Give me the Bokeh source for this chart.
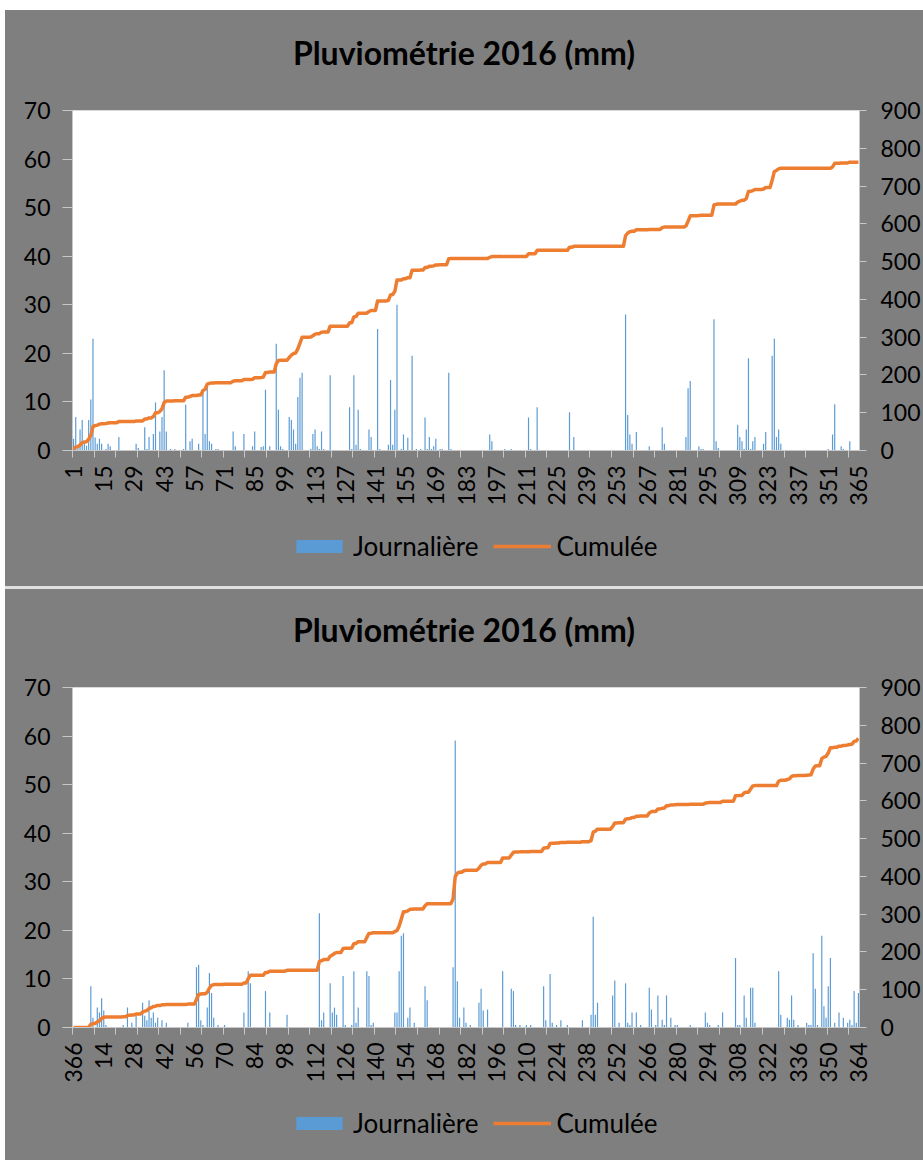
import math
import numpy as np
from bokeh.plotting import figure
from bokeh.models import Range1d, LinearAxis, FixedTicker, Legend, LegendItem, Div
from bokeh.layouts import column
from bokeh.embed import file_html
from bokeh.resources import INLINE

TITLE = "Pluviométrie 2016 (mm)"
SERIES_DAILY = "Journalière"
SERIES_CUM = "Cumulée"

# Category labels (one per bar), chart 1 and chart 2
top_days = list(range(1, 366))
bottom_days = [366] + list(range(1, 365))
label_step = 14
left_ticks = [0, 10, 20, 30, 40, 50, 60, 70]
right_ticks = [0, 100, 200, 300, 400, 500, 600, 700, 800, 900]

# Daily rain (mm), keyed by the category label; days not listed are 0
top_rain = {
    1: 2.4, 2: 6.9, 3: 1.0, 4: 4.3, 5: 6.3, 6: 1.5, 7: 1.0, 8: 6.3, 9: 10.5, 10: 23.0,
    11: 2.7, 12: 1.4, 13: 2.4, 14: 1.4, 16: 0.3, 17: 1.4, 18: 0.9, 22: 2.8,
    30: 1.4, 31: 0.5, 34: 4.8, 35: 0.3, 36: 2.8, 38: 3.4, 39: 9.9, 41: 3.9, 42: 6.9,
    43: 16.5, 44: 3.9, 46: 0.3, 48: 0.3,
    52: 0.3, 53: 9.4, 55: 1.9, 56: 2.4, 59: 1.4,
    61: 12.0, 62: 3.4, 63: 13.5, 64: 1.9, 65: 1.4, 67: 0.3, 68: 0.3,
    75: 3.9, 76: 0.9, 80: 3.4, 84: 0.9, 85: 3.9, 88: 0.7, 89: 0.9,
    90: 12.5, 92: 0.9, 95: 22.0, 96: 8.4, 97: 0.9, 98: 0.3,
    101: 6.9, 102: 6.3, 103: 4.3, 104: 1.4, 105: 11.0, 106: 15.0, 107: 16.0,
    111: 0.3, 112: 3.4, 113: 4.3, 114: 0.9, 115: 0.3, 116: 3.9, 117: 0.3, 120: 15.5,
    129: 8.9, 130: 0.3, 131: 15.5, 132: 1.2, 133: 8.4, 134: 0.3,
    138: 4.3, 139: 2.8, 142: 25.0, 143: 0.3,
    147: 1.2, 148: 14.5, 149: 1.2, 150: 8.4, 151: 30.0, 153: 0.3, 154: 3.3, 156: 2.6,
    158: 19.5, 160: 0.3, 162: 0.3,
    164: 6.8, 165: 0.3, 166: 2.8, 167: 0.3, 168: 0.9, 169: 2.4, 171: 0.3, 172: 0.3,
    175: 16.0, 176: 0.3,
    194: 3.3, 195: 1.9, 201: 0.3, 204: 0.3, 212: 6.8, 213: 0.3, 216: 8.9, 231: 7.9, 233: 2.8,
    257: 28.0, 258: 7.3, 259: 3.3, 260: 1.4, 262: 3.8, 268: 0.9, 274: 4.8, 275: 1.4,
    285: 2.8, 286: 12.8, 287: 14.3, 291: 0.9, 292: 0.3, 293: 0.3, 298: 27.0, 299: 1.9, 300: 0.5,
    309: 5.3, 310: 2.8, 311: 1.9, 312: 0.3, 313: 4.3, 314: 19.0, 315: 0.3, 316: 1.9, 317: 2.8,
    321: 1.4, 322: 3.8, 325: 19.5, 326: 23.0, 327: 2.8, 328: 4.3, 329: 1.4,
    351: 0.3, 353: 3.3, 354: 9.5, 357: 0.9, 358: 0.3, 361: 1.9,
}

bottom_rain = {
    8: 8.5, 9: 2.0, 11: 4.1, 12: 3.1, 13: 6.0, 14: 3.5, 15: 0.5,
    23: 0.5, 25: 4.1, 27: 1.0, 29: 2.4, 32: 5.1, 33: 2.4, 34: 1.5, 35: 5.6, 36: 2.0,
    37: 3.1, 38: 1.0, 39: 2.0, 41: 1.5, 43: 1.0,
    53: 1.0, 57: 12.4, 58: 12.9, 59: 1.5, 60: 0.5, 62: 4.1, 63: 11.2, 64: 7.1, 65: 2.0,
    67: 0.5, 70: 0.5,
    79: 3.1, 81: 11.6, 82: 9.1, 89: 7.5, 91: 3.1, 99: 2.6,
    114: 23.5, 115: 1.5, 116: 3.1, 119: 9.1, 120: 3.1, 121: 4.1, 122: 2.6,
    125: 10.6, 126: 0.5, 129: 0.5, 130: 11.6, 131: 1.0, 132: 4.1, 136: 11.6, 137: 10.6,
    138: 0.5, 139: 1.0,
    149: 3.1, 150: 3.1, 151: 11.6, 152: 18.9, 153: 19.4, 155: 2.0, 156: 4.1, 158: 1.0,
    163: 8.5, 164: 5.6,
    176: 12.4, 177: 59.1, 178: 9.5, 179: 2.0, 181: 4.1, 182: 1.0, 184: 0.5,
    188: 5.1, 189: 8.0, 190: 3.5, 192: 3.7, 199: 11.6, 203: 8.0, 204: 7.5, 205: 0.5,
    207: 0.5, 210: 0.5, 212: 0.5,
    218: 8.5, 219: 1.5, 221: 11.0, 222: 1.0, 224: 0.5, 226: 1.5, 229: 0.5, 236: 1.5,
    240: 2.6, 241: 22.8, 242: 2.6, 243: 5.1,
    250: 6.6, 251: 9.7, 253: 1.0, 256: 9.1, 257: 1.0, 258: 0.5, 259: 3.1, 261: 3.1, 263: 0.5,
    267: 8.2, 268: 3.7, 270: 0.5, 271: 6.6, 273: 1.6, 274: 0.5, 275: 6.6, 277: 2.0,
    279: 0.5, 280: 0.5, 286: 0.5,
    293: 3.1, 294: 1.0, 295: 0.5, 299: 0.5, 301: 3.1,
    307: 14.3, 308: 0.5, 309: 0.5, 311: 6.6, 312: 2.0, 314: 8.2, 315: 8.2, 316: 1.0,
    327: 11.6, 328: 2.6, 331: 2.0, 332: 1.6, 333: 6.6, 334: 1.6, 336: 0.5,
    340: 1.0, 341: 0.5, 342: 0.5, 343: 15.3, 344: 8.0, 345: 0.5, 347: 18.9, 348: 4.4,
    349: 2.0, 350: 8.5, 351: 14.3, 353: 1.0,
    355: 3.1, 357: 2.0, 359: 1.0, 360: 1.6, 361: 0.5, 362: 7.5, 363: 1.0, 364: 7.1,
}

BAR_COLOR = "#5b9bd5"
LINE_COLOR = "#ed7d31"
PANEL = "#7f7f7f"
AXIS_GRAY = "#c8c8c8"
FONT = "Lato"
W = 918


def series(labels, rain):
    daily = [0.0 if (i == 0 and lab == 366) else rain.get(lab, 0.0)
             for i, lab in enumerate(labels)]
    return list(range(len(labels))), daily, list(np.cumsum(daily))


def make_title(height, pad_top):
    html = ('<div style="width:%dpx; text-align:center; font-family:Lato; font-weight:bold; '
            'font-size:32px; line-height:38px; color:black; white-space:nowrap; '
            'padding-top:%dpx;">%s</div>' % (W, pad_top, TITLE))
    return Div(text=html, width=W, height=height, margin=(0, 0, 0, 0),
               styles={"background-color": PANEL})


def make_chart(labels, rain, height, border_top, border_bottom):
    xs, daily, cum = series(labels, rain)
    n = len(labels)
    p = figure(width=W, height=height, x_range=Range1d(-0.5, n - 0.5),
               y_range=Range1d(0, 70), output_backend="svg", toolbar_location=None,
               min_border_left=67, min_border_right=61,
               min_border_top=border_top, min_border_bottom=border_bottom)
    p.title.visible = False
    p.extra_y_ranges = {"cum": Range1d(0, 900)}
    p.border_fill_color = PANEL
    p.background_fill_color = "white"
    p.outline_line_color = "#d9d9d9"
    p.xgrid.visible = False
    p.ygrid.visible = False

    p.vbar(x=xs, top=daily, width=0.55, color=BAR_COLOR, line_color=None)
    p.line(x=xs, y=cum, y_range_name="cum", color=LINE_COLOR, line_width=3.5,
           line_join="round")

    # x axis: labels every 14 categories, tick marks every 10 categories
    lab_pos = list(range(0, n, label_step))
    xa = p.xaxis[0]
    xa.ticker = FixedTicker(ticks=lab_pos, minor_ticks=[k - 0.5 for k in range(0, n, 10)])
    xa.major_label_overrides = {k: str(labels[k]) for k in lab_pos}
    xa.major_label_orientation = math.pi / 2
    xa.major_tick_out = 0
    xa.major_tick_in = 0
    xa.minor_tick_out = 7
    xa.minor_tick_in = 0
    xa.minor_tick_line_color = AXIS_GRAY
    xa.axis_line_color = AXIS_GRAY
    xa.major_label_standoff = 8
    xa.major_label_text_font = FONT
    xa.major_label_text_font_size = "23px"
    xa.major_label_text_color = "black"

    ya = p.yaxis[0]
    ya.ticker = FixedTicker(ticks=left_ticks)
    ya.major_tick_out = 10
    ya.major_tick_in = 0
    ya.minor_tick_line_color = None
    ya.major_tick_line_color = AXIS_GRAY
    ya.axis_line_color = AXIS_GRAY
    ya.major_label_standoff = 12
    ya.major_label_text_font = FONT
    ya.major_label_text_font_size = "23px"
    ya.major_label_text_color = "black"

    ra = LinearAxis(y_range_name="cum", ticker=FixedTicker(ticks=right_ticks))
    ra.major_tick_out = 7
    ra.major_tick_in = 0
    ra.minor_tick_line_color = None
    ra.major_tick_line_color = AXIS_GRAY
    ra.axis_line_color = AXIS_GRAY
    ra.major_label_standoff = 14
    ra.major_label_text_font = FONT
    ra.major_label_text_font_size = "23px"
    ra.major_label_text_color = "black"
    p.add_layout(ra, "right")
    return p


def make_legend(labels, rain, height, y_off):
    xs, daily, cum = series(labels, rain)
    lg = figure(width=W, height=height, x_range=Range1d(0, 1), y_range=Range1d(0, 1),
                output_backend="svg", toolbar_location=None, min_border=0,
                x_axis_location=None, y_axis_location=None)
    lg.title.visible = False
    lg.border_fill_color = PANEL
    lg.background_fill_color = PANEL
    lg.outline_line_color = PANEL
    lg.outline_line_width = 3
    lg.xgrid.visible = False
    lg.ygrid.visible = False
    bars = lg.vbar(x=xs, top=daily, width=0.55, color=BAR_COLOR, line_color=None,
                   visible=False)
    line = lg.line(x=xs, y=cum, color=LINE_COLOR, line_width=3.5, visible=False)
    legend = Legend(items=[LegendItem(label=SERIES_DAILY, renderers=[bars]),
                           LegendItem(label=SERIES_CUM, renderers=[line])],
                    location=(214, y_off), orientation="horizontal",
                    background_fill_alpha=0, border_line_alpha=0,
                    padding=4, margin=0,
                    glyph_width=58, glyph_height=16, label_standoff=5, spacing=15,
                    label_text_font=FONT, label_text_font_size="26px",
                    label_text_color="black")
    lg.add_layout(legend)
    return lg


t1 = make_title(78, 24)
p1 = make_chart(top_days, top_rain, 420, 22, 55)
l1 = make_legend(top_days, top_rain, 78, 20)
sep = Div(width=W, height=3, margin=(0, 0, 0, 0), styles={"background-color": "#e0e0e0"})
t2 = make_title(78, 22)
p2 = make_chart(bottom_days, bottom_rain, 418, 20, 55)
l2 = make_legend(bottom_days, bottom_rain, 75, 17)

layout = column(t1, p1, l1, sep, t2, p2, l2, spacing=0, margin=(10, 0, 0, 5),
                styles={"background-color": PANEL})
open("out.html", "w").write(file_html(layout, INLINE))
